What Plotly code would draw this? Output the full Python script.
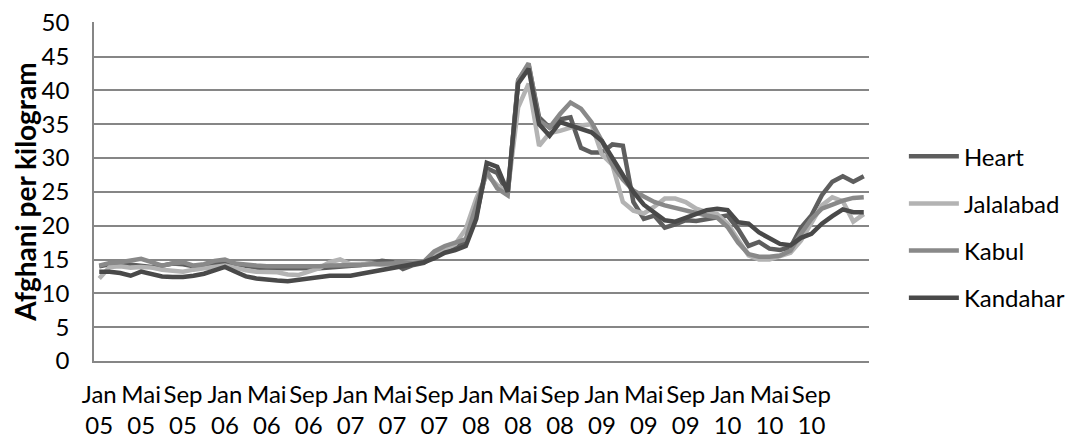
import plotly.graph_objects as go

month_names = ["Jan", "Feb", "Mär", "Apr", "Mai", "Jun", "Jul", "Aug", "Sep", "Okt", "Nov", "Dez"]
years = ["05", "06", "07", "08", "09", "10", "11"]
months = [f"{m} {y}" for y in years for m in month_names][:74]

heart = [14.0, 14.3, 14.4, 14.2, 14.0, 13.9, 14.1, 14.4, 14.3, 14.0,
         14.2, 14.5, 14.6, 14.3, 14.0, 13.8, 13.7, 13.7, 13.6, 13.6,
         13.6, 13.7, 13.8, 13.9, 14.0, 14.2, 14.5, 14.8, 14.6, 13.6,
         14.2, 14.5, 15.5, 16.3, 17.0, 17.5, 21.5, 28.5, 27.8, 24.7,
         41.5, 43.7, 36.0, 34.5, 35.7, 36.0, 31.5, 30.8, 30.8, 32.0,
         31.8, 23.5, 21.0, 21.5, 19.7, 20.2, 20.8, 20.7, 21.0, 21.2,
         21.5, 19.5, 17.0, 17.6, 16.6, 16.4, 16.8, 19.7, 21.5, 24.5,
         26.5, 27.3, 26.5, 27.3]
jalalabad = [12.2, 13.9, 14.0, 13.8, 13.9, 13.8, 13.5, 13.3, 13.2, 13.5,
             13.7, 13.9, 14.1, 13.8, 13.4, 13.2, 13.2, 13.1, 12.8, 12.7,
             13.2, 13.7, 14.6, 15.0, 14.3, 14.3, 14.4, 14.2, 14.3, 14.4,
             14.5, 14.7, 15.5, 16.5, 17.3, 19.5, 24.0, 27.5, 26.0, 25.0,
             37.5, 41.0, 31.8, 33.7, 34.0, 34.5, 34.8, 35.0, 30.5, 29.0,
             23.5, 22.2, 21.8, 22.8, 24.0, 24.0, 23.5, 22.5, 22.0, 21.7,
             20.3, 17.8, 15.6, 15.0, 15.0, 15.5, 16.0, 17.8, 20.5, 23.0,
             24.2, 23.6, 20.6, 21.7]
kabul = [14.1, 14.5, 14.6, 14.8, 15.1, 14.6, 14.1, 14.4, 14.6, 14.1,
         14.3, 14.8, 15.0, 14.4, 14.2, 14.1, 14.0, 14.0, 13.9, 13.9,
         13.9, 14.0, 14.1, 14.1, 14.1, 14.2, 14.3, 14.4, 14.4, 14.5,
         14.5, 14.7, 16.2, 17.0, 17.5, 18.0, 23.0, 28.0, 25.5, 24.5,
         41.5, 44.0, 35.5, 34.5, 36.5, 38.2, 37.3, 35.3, 32.5, 29.0,
         26.8, 25.2, 24.3, 23.5, 23.0, 22.6, 22.3, 21.8, 21.5, 21.2,
         19.8, 17.5, 15.8, 15.4, 15.4, 15.6, 16.3, 18.8, 21.0, 22.5,
         23.1, 23.7, 24.1, 24.2]
kandahar = [13.2, 13.2, 13.0, 12.6, 13.2, 12.8, 12.5, 12.4, 12.4, 12.6,
            12.9, 13.4, 13.9, 13.2, 12.5, 12.2, 12.0, 11.9, 11.8, 12.0,
            12.3, 12.4, 12.6, 12.6, 12.6, 12.9, 13.2, 13.4, 13.7, 14.0,
            14.3, 14.6, 15.2, 16.0, 16.4, 17.0, 21.0, 29.3, 28.7, 25.0,
            41.0, 43.2, 35.0, 33.3, 35.3, 34.8, 34.4, 33.8, 32.5, 30.0,
            27.5, 25.0, 23.1, 22.0, 20.8, 20.6, 21.2, 21.8, 22.3, 22.5,
            22.3, 20.5, 20.3, 19.0, 18.2, 17.3, 17.1, 18.2, 18.8, 20.3,
            21.4, 22.4, 22.0, 22.0]

series_names = ["Heart", "Jalalabad", "Kabul", "Kandahar"]
series_values = [heart, jalalabad, kabul, kandahar]
series_colors = ["#5e5e5e", "#b3b3b3", "#898989", "#494949"]

tick_vals = months[0:69:4]          # Jan 05 ... Sep 10
tick_text = [m.replace(" ", "<br>") for m in tick_vals]
y_ticks = list(range(0, 51, 5))

FONT = "Lato"
FS = 24
fig = go.Figure()
for name, vals, col in zip(series_names, series_values, series_colors):
    fig.add_trace(go.Scatter(x=months, y=vals, name=name, mode="lines",
                             legendgroup=name,
                             line=dict(color=col, width=4.5)))

fig.update_layout(
    width=1074, height=445,
    margin=dict(l=86, r=211, t=14, b=92, pad=0),
    paper_bgcolor="white", plot_bgcolor="white",
    font=dict(family=FONT, size=FS, color="#000000"),
    showlegend=True,
    legend=dict(x=1.045, xanchor="left", y=0.395, yanchor="middle",
                font=dict(family=FONT, size=FS, color="#000000"),
                tracegroupgap=13, itemwidth=50, bgcolor="rgba(0,0,0,0)"),
    xaxis=dict(type="category", categoryorder="array", categoryarray=months,
               range=[-0.5, len(months) - 0.5], automargin=False,
               tickmode="array", tickvals=tick_vals, ticktext=tick_text,
               tickangle=0,
               showgrid=False, showline=True, linecolor="#868686", linewidth=1.5,
               ticks="outside", ticklen=11, tickcolor="rgba(0,0,0,0)",
               tickfont=dict(family=FONT, size=FS, color="#000000"), fixedrange=True),
    yaxis=dict(range=[0, 50.1], tickmode="array", tickvals=y_ticks, automargin=False,
               ticklabeloverflow="allow",
               showgrid=True, gridcolor="#868686", gridwidth=1.5,
               showline=True, linecolor="#868686", linewidth=1.5,
               zeroline=False, ticks="", ticklabelstandoff=18,
               tickfont=dict(family=FONT, size=FS, color="#000000"),
               title=dict(text="<b>Afghani per kilogram</b>", standoff=18,
                          font=dict(family=FONT, size=28, color="#000000"))),
)

fig.write_html("out.html")
